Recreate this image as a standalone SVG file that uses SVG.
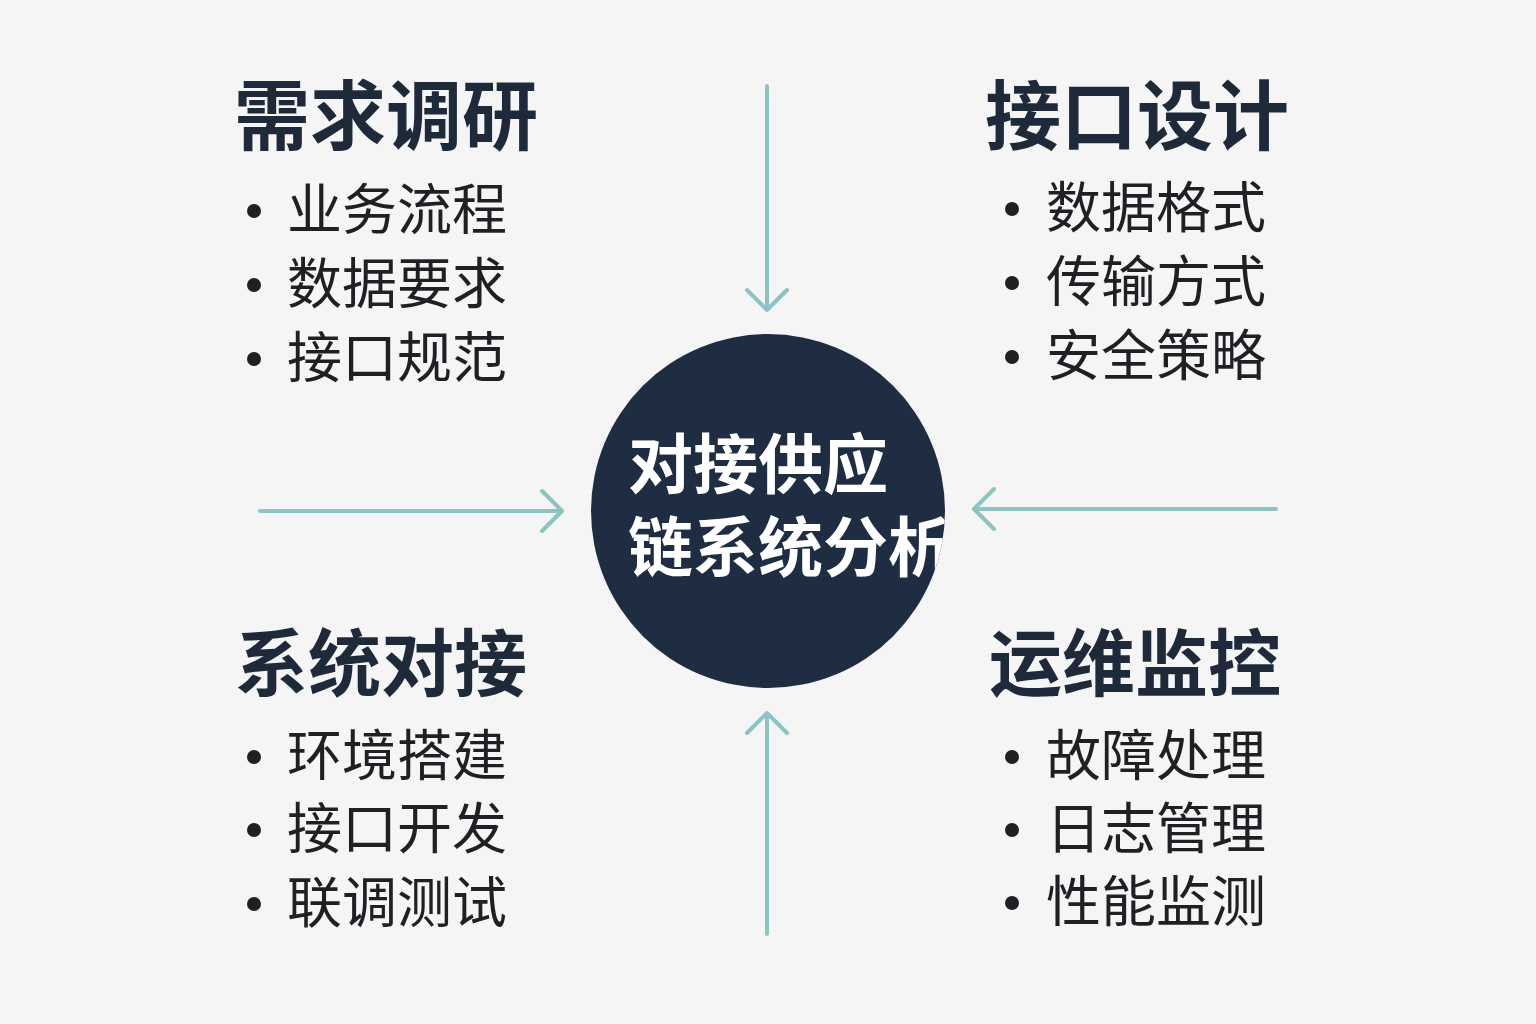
<svg xmlns="http://www.w3.org/2000/svg" width="1536" height="1024" viewBox="0 0 1536 1024">
<style>
.h{font-family:"Noto Sans CJK SC","Noto Sans",sans-serif;font-weight:700;font-size:76px;fill:#1e2a3a}
.hb{font-size:73px}
.i{font-family:"Noto Sans CJK SC","Noto Sans",sans-serif;font-weight:400;font-size:55px;fill:#1f1f24}
.c{font-family:"Noto Sans CJK SC","Noto Sans",sans-serif;font-weight:700;font-size:65px;fill:#ffffff}
.b{fill:#1f1f24}
.a{fill:none;stroke:#8cc3c3;stroke-width:4;stroke-linecap:round;stroke-linejoin:round}
</style>
<defs>
<clipPath id="cc"><circle cx="768" cy="511" r="177"/></clipPath>
</defs>
<rect width="1536" height="1024" fill="#f5f5f6"/>
<g id="connectors">
<path class="a" d="M767 86V310M747 290L767 310L787 290"/>
<path class="a" d="M260 511H562M542 491L562 511L542 531"/>
<path class="a" d="M1276 509H974M994 489L974 509L994 529"/>
<path class="a" d="M767 934V713M747 733L767 713L787 733"/>
</g>
<g id="center">
<circle cx="768" cy="511" r="177" fill="#1f2d42"/>
<g clip-path="url(#cc)">
<text class="c"><tspan x="628" y="488">对接供应</tspan><tspan x="628" y="571">链系统分析</tspan></text>
</g>
</g>
<g id="n1">
<text class="h" x="234" y="144">需求调研</text>
<circle class="b" cx="254" cy="211" r="7"/><text class="i" x="287" y="229">业务流程</text>
<circle class="b" cx="254" cy="285" r="7"/><text class="i" x="287" y="303">数据要求</text>
<circle class="b" cx="254" cy="359" r="7"/><text class="i" x="287" y="377">接口规范</text>
</g>
<g id="n2">
<text class="h" x="985" y="144">接口设计</text>
<circle class="b" cx="1012" cy="209" r="7"/><text class="i" x="1046" y="227">数据格式</text>
<circle class="b" cx="1012" cy="283" r="7"/><text class="i" x="1046" y="301">传输方式</text>
<circle class="b" cx="1012" cy="357" r="7"/><text class="i" x="1046" y="375">安全策略</text>
</g>
<g id="n3">
<text class="h hb" x="235" y="690">系统对接</text>
<circle class="b" cx="254" cy="757" r="7"/><text class="i" x="287" y="775">环境搭建</text>
<circle class="b" cx="254" cy="830" r="7"/><text class="i" x="287" y="848">接口开发</text>
<circle class="b" cx="254" cy="904" r="7"/><text class="i" x="287" y="922">联调测试</text>
</g>
<g id="n4">
<text class="h hb" x="989" y="690">运维监控</text>
<circle class="b" cx="1012" cy="757" r="7"/><text class="i" x="1046" y="775">故障处理</text>
<circle class="b" cx="1012" cy="830" r="7"/><text class="i" x="1046" y="848">日志管理</text>
<circle class="b" cx="1012" cy="903" r="7"/><text class="i" x="1046" y="921">性能监测</text>
</g>
</svg>
